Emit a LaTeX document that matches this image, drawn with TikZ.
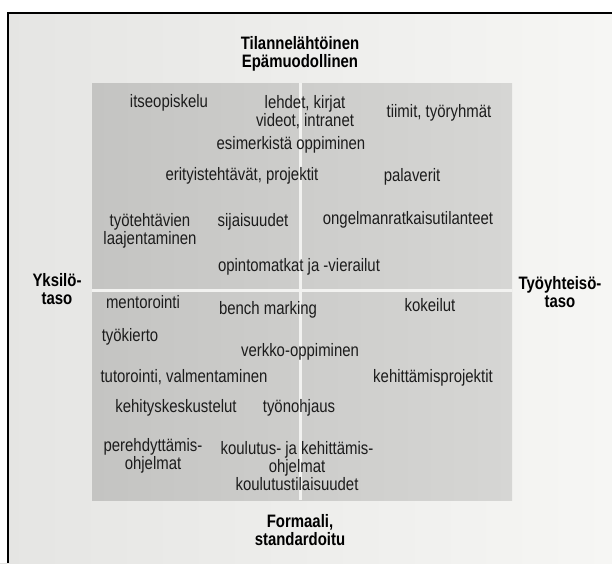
\documentclass[tikz,border=0pt]{standalone}
\usepackage{fontspec}
\setmainfont{Liberation Sans}[FakeStretch=0.83]
\definecolor{ink}{RGB}{28,28,28}
\definecolor{pageL}{RGB}{229,229,227}
\definecolor{pageR}{RGB}{246,246,244}
\definecolor{panelL}{RGB}{196,196,194}
\definecolor{panelR}{RGB}{214,214,212}
\definecolor{gap}{RGB}{242,242,240}
\begin{document}
\begin{tikzpicture}[x=1pt,y=-1pt,
  lbl/.style={font=\fontsize{18}{18}\selectfont, text=ink, align=center, inner sep=0pt},
  head/.style={font=\fontsize{18}{18.5}\selectfont\bfseries, text=black, align=center, inner sep=0pt},
  divider/.style={draw=gap, line width=3pt},
]
\useasboundingbox (0,0) rectangle (612,563);
% page and frame
\shade[left color=pageL, right color=pageR] (0,0) rectangle (612,563);
\fill[white] (0,0) rectangle (612,13);
\fill[white] (0,0) rectangle (8,563);
\draw[line width=2.5pt] (612,13) -- (8,13) -- (8,563);

% four-field panel
\shade[left color=panelL, right color=panelR] (92,83) rectangle (512,500);
\draw[divider] (300,83) -- (300,500);
\draw[divider] (92,290) -- (512,290);

% axis labels
\node[head] (top)    at (300,54)  {Tilannelähtöinen\\Epämuodollinen};
\node[head] (bottom) at (300,530) {Formaali,\\standardoitu};
\node[head] (left)   at (57,289)  {Yksilö-\\taso};
\node[head] (right)  at (560,292) {Työyhteisö-\\taso};

% upper half
\node[lbl] (n1)  at (169,103) {itseopiskelu};
\node[lbl] (n2)  at (305,112) {lehdet, kirjat\\videot, intranet};
\node[lbl] (n3)  at (439,113) {tiimit, työryhmät};
\node[lbl] (n4)  at (291,145) {esimerkistä oppiminen};
\node[lbl] (n5)  at (242,176) {erityistehtävät, projektit};
\node[lbl] (n6)  at (412,177) {palaverit};
\node[lbl] (n7)  at (150,231) {työtehtävien\\laajentaminen};
\node[lbl] (n8)  at (253,222) {sijaisuudet};
\node[lbl] (n9)  at (408,220) {ongelmanratkaisutilanteet};
\node[lbl] (n10) at (299,267) {opintomatkat ja -vierailut};

% lower half
\node[lbl] (n11) at (143,302) {mentorointi};
\node[lbl] (n12) at (268,310) {bench marking};
\node[lbl] (n13) at (430,305) {kokeilut};
\node[lbl] (n14) at (130,337) {työkierto};
\node[lbl] (n15) at (300,352) {verkko-oppiminen};
\node[lbl] (n16) at (184,377) {tutorointi, valmentaminen};
\node[lbl] (n17) at (433,378) {kehittämisprojektit};
\node[lbl] (n18) at (176,408) {kehityskeskustelut};
\node[lbl] (n19) at (299,408) {työnohjaus};
\node[lbl] (n20) at (153,456) {perehdyttämis-\\ohjelmat};
\node[lbl] (n21) at (297,466) {koulutus- ja kehittämis-\\ohjelmat\\koulutustilaisuudet};
\end{tikzpicture}
\end{document}
